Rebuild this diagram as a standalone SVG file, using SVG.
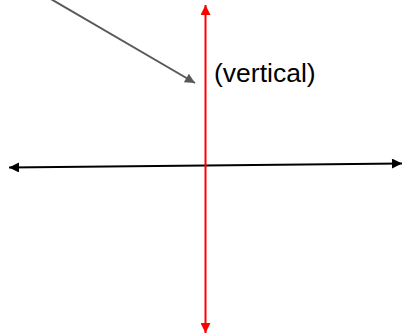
<svg xmlns="http://www.w3.org/2000/svg" width="402" height="336" viewBox="0 0 402 336">
<style>
.lbl{font-family:"Liberation Sans",Arial,sans-serif;font-size:26.5px;fill:#000}
</style>
<defs>
<marker id="ab" viewBox="0 0 10 10" refX="10" refY="5" markerWidth="7" markerHeight="5" orient="auto-start-reverse" markerUnits="strokeWidth"><path d="M0,0L10,5L0,10z" fill="#000"/></marker>
<marker id="ar" viewBox="0 0 10 10" refX="10" refY="5" markerWidth="7" markerHeight="5" orient="auto-start-reverse" markerUnits="strokeWidth"><path d="M0,0L10,5L0,10z" fill="#ff0000"/></marker>
<marker id="ag" viewBox="0 0 10 10" refX="10" refY="5" markerWidth="7" markerHeight="5" orient="auto" markerUnits="strokeWidth"><path d="M0,0L10,5L0,10z" fill="#595959"/></marker>
</defs>
<g id="connectors" fill="none" stroke-width="2">
<line x1="9" y1="167.5" x2="402" y2="163.5" stroke="#000" marker-start="url(#ab)" marker-end="url(#ab)"/>
<line x1="205.5" y1="5" x2="205.5" y2="333" stroke="#ff0000" marker-start="url(#ar)" marker-end="url(#ar)"/>
<line x1="44" y1="-5" x2="195" y2="83" stroke="#595959" marker-end="url(#ag)"/>
</g>
<g id="label">
<text class="lbl" x="214" y="82">(vertical)</text>
</g>
</svg>
